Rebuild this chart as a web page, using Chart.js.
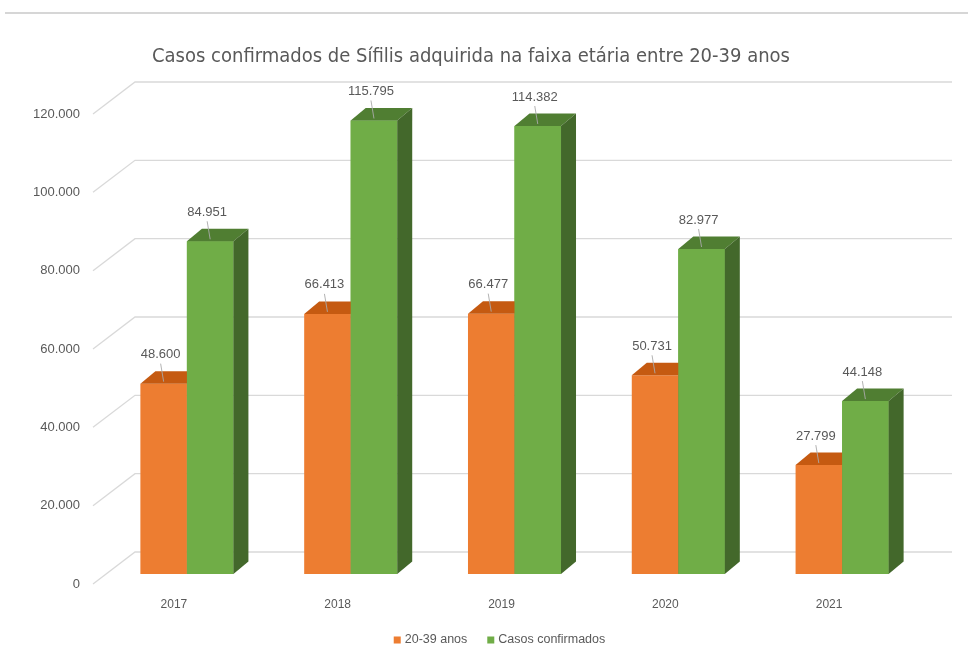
<!DOCTYPE html>
<html><head><meta charset="utf-8">
<script src="https://cdn.jsdelivr.net/npm/chart.js@4.4.1/dist/chart.umd.min.js"></script>
<style>html,body{margin:0;padding:0;background:#fff;overflow:hidden}</style>
</head><body>
<canvas id="c" width="968" height="655"></canvas>
<script>
const categories = ['2017', '2018', '2019', '2020', '2021'];
const seriesNames = ['20-39 anos', 'Casos confirmados'];
const ageGroupValues = [48600, 66413, 66477, 50731, 27799];
const confirmedValues = [84951, 115795, 114382, 82977, 44148];
const yTickValues = [0, 20000, 40000, 60000, 80000, 100000, 120000];
const yTickLabels = ['0', '20.000', '40.000', '60.000', '80.000', '100.000', '120.000'];
const titleText = 'Casos confirmados de Sífilis adquirida na faixa etária entre 20-39 anos';

const frontColors = ['#ED7D31', '#70AD47'];
const topColors = ['#C55A11', '#507E32'];
const sideColors = ['#B4541A', '#43682B'];
const TXT = '#595959';
const DX = 15, DY = -12.5;

function fmt(v) {
  return String(v).replace(/\B(?=(\d{3})+(?!\d))/g, '.');
}

const backgroundPlugin = {
  id: 'bg',
  beforeDraw(chart) {
    const ctx = chart.ctx;
    ctx.save();
    ctx.fillStyle = '#fff';
    ctx.fillRect(0, 0, chart.width, chart.height);
    ctx.strokeStyle = '#d6d6d6';
    ctx.lineWidth = 2;
    ctx.beginPath();
    ctx.moveTo(5, 13);
    ctx.lineTo(chart.width, 13);
    ctx.stroke();
    ctx.restore();
  }
};

const wallGridPlugin = {
  id: 'wallGrid',
  beforeDatasetsDraw(chart) {
    const ctx = chart.ctx, y = chart.scales.y, a = chart.chartArea;
    ctx.save();
    ctx.strokeStyle = '#d9d9d9';
    ctx.lineWidth = 1.3;
    yTickValues.forEach(v => {
      const py = y.getPixelForValue(v);
      ctx.beginPath();
      ctx.moveTo(a.left - 12, py + 10);
      ctx.lineTo(a.left + 30, py - 22);
      ctx.lineTo(a.right + 28, py - 22);
      ctx.stroke();
    });
    ctx.restore();
  }
};

function drawFaces(ctx, el, di) {
  const p = el.getProps(['x', 'y', 'base', 'width'], true);
  const l = p.x - p.width / 2, r = p.x + p.width / 2;
  ctx.fillStyle = topColors[di];
  ctx.beginPath();
  ctx.moveTo(l, p.y); ctx.lineTo(l + DX, p.y + DY); ctx.lineTo(r + DX, p.y + DY); ctx.lineTo(r, p.y);
  ctx.closePath(); ctx.fill();
  ctx.fillStyle = sideColors[di];
  ctx.beginPath();
  ctx.moveTo(r, p.y); ctx.lineTo(r + DX, p.y + DY); ctx.lineTo(r + DX, p.base + DY); ctx.lineTo(r, p.base);
  ctx.closePath(); ctx.fill();
}

const threeDPlugin = {
  id: 'threeD',
  afterDatasetsDraw(chart) {
    const ctx = chart.ctx;
    const m0 = chart.getDatasetMeta(0), m1 = chart.getDatasetMeta(1);
    ctx.save();
    categories.forEach((c, i) => {
      drawFaces(ctx, m0.data[i], 0);
      m1.data[i].draw(ctx);
      drawFaces(ctx, m1.data[i], 1);
    });
    // data labels
    ctx.font = '13px "Liberation Sans", Arial, sans-serif';
    ctx.textAlign = 'center';
    ctx.textBaseline = 'middle';
    [m0, m1].forEach((m, di) => {
      m.data.forEach((el, i) => {
        const p = el.getProps(['x', 'y'], true);
        const lx = p.x - 3, ly = p.y - 29;
        ctx.strokeStyle = 'rgba(170,170,170,0.9)';
        ctx.lineWidth = 1;
        ctx.beginPath();
        ctx.moveTo(lx, ly + 9);
        ctx.lineTo(p.x, p.y - 2);
        ctx.stroke();
        ctx.fillStyle = TXT;
        ctx.fillText(fmt(chart.data.datasets[di].data[i]), lx, ly);
      });
    });
    ctx.restore();
  }
};

const legendPlugin = {
  id: 'customLegend',
  afterDraw(chart) {
    const ctx = chart.ctx, a = chart.chartArea;
    ctx.save();
    ctx.font = '12.5px "Liberation Sans", Arial, sans-serif';
    ctx.textBaseline = 'middle';
    const box = 7, gap = 4, itemGap = 20;
    const widths = chart.data.datasets.map(d => box + gap + ctx.measureText(d.label).width);
    const total = widths.reduce((s, w) => s + w, 0) + itemGap * (widths.length - 1);
    let x = (a.left + a.right) / 2 - 15 - total / 2;
    const cy = 640;
    chart.data.datasets.forEach((d, i) => {
      ctx.fillStyle = d.backgroundColor;
      ctx.fillRect(x, cy - box / 2, box, box);
      ctx.fillStyle = TXT;
      ctx.textAlign = 'left';
      ctx.fillText(d.label, x + box + gap, cy);
      x += widths[i] + itemGap;
    });
    ctx.restore();
  }
};

const titleShiftPlugin = {
  id: 'titleShift',
  afterLayout(chart) {
    const t = chart.titleBlock;
    if (t) { t.left += 9; t.right += 9; }
  }
};

new Chart(document.getElementById('c'), {
  type: 'bar',
  data: {
    labels: categories,
    datasets: [
      { label: seriesNames[0], data: ageGroupValues, backgroundColor: frontColors[0], borderWidth: 0 },
      { label: seriesNames[1], data: confirmedValues, backgroundColor: frontColors[1], borderWidth: 0 }
    ]
  },
  options: {
    responsive: false,
    animation: false,
    devicePixelRatio: 1,
    layout: { padding: { left: 0, right: 44, top: 0, bottom: 0 } },
    datasets: { bar: { categoryPercentage: 0.568, barPercentage: 1 } },
    plugins: {
      legend: { display: false },
      tooltip: { enabled: false },
      title: {
        display: true,
        text: titleText,
        color: TXT,
        font: { family: '"Liberation Sans Narrow", "DejaVu Sans Condensed", sans-serif', size: 20, weight: 'normal', lineHeight: 1.2 },
        padding: { top: 45, bottom: 35 }
      }
    },
    scales: {
      x: {
        grid: { display: false, drawTicks: false },
        border: { display: false },
        ticks: { color: TXT, font: { family: '"Liberation Sans", Arial, sans-serif', size: 12 }, padding: 23, labelOffset: -13 },
        afterFit(s) { s.height = 81; }
      },
      y: {
        min: 0, max: 120000,
        grid: { display: false, drawTicks: false },
        border: { display: false },
        ticks: {
          stepSize: 20000,
          color: TXT,
          padding: 25,
          labelOffset: 10,
          font: { family: '"Liberation Sans", Arial, sans-serif', size: 13 },
          callback(v) { const k = yTickValues.indexOf(v); return k >= 0 ? yTickLabels[k] : ''; }
        },
        afterFit(s) { s.width = 105; }
      }
    }
  },
  plugins: [backgroundPlugin, wallGridPlugin, threeDPlugin, legendPlugin, titleShiftPlugin]
});
</script>
</body></html>
